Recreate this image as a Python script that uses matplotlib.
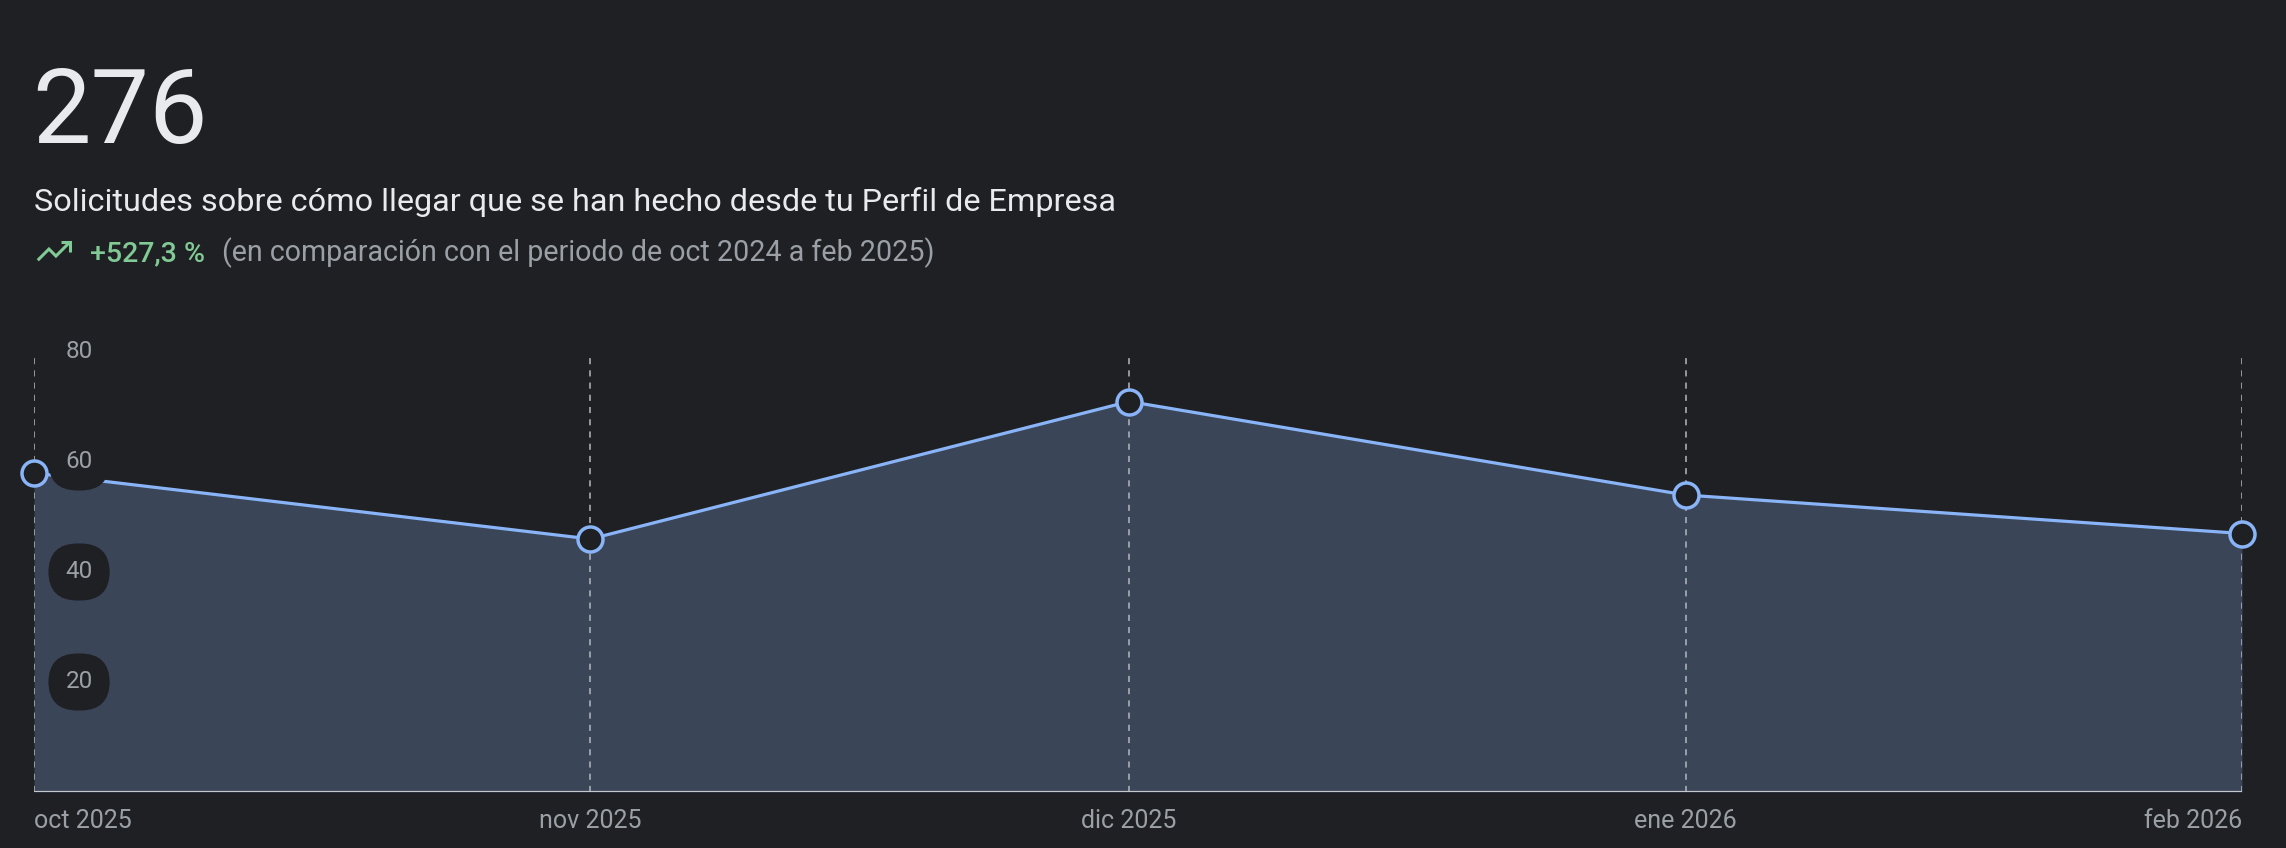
import matplotlib
matplotlib.use("Agg")
import matplotlib.pyplot as plt
from matplotlib.lines import Line2D
from datetime import datetime

# monthly values
months = [datetime(2025, 10, 1), datetime(2025, 11, 1), datetime(2025, 12, 1),
          datetime(2026, 1, 1), datetime(2026, 2, 1)]
month_labels = ["oct 2025", "nov 2025", "dic 2025", "ene 2026", "feb 2026"]
values = [58, 46, 71, 54, 47]
y_ticks = [20, 40, 60, 80]

total = "276"
subtitle = "Solicitudes sobre cómo llegar que se han hecho desde tu Perfil de Empresa"
change = "+527,3 %"
compare = "(en comparación con el periodo de oct 2024 a feb 2025)"

BG = "#1f2023"
FILL = "#3a4558"
LINE = "#8ab4f8"
GRID = "#b4b8be"
TXT = "#e8eaed"
SUB = "#9aa0a6"
GREEN = "#81c995"

W, H = 2286, 848
plt.rcParams["font.family"] = ["Roboto", "DejaVu Sans"]

fig = plt.figure(figsize=(W / 100, H / 100), dpi=100, facecolor=BG)

def fx(px):
    return px / W

def fy(py):
    return 1 - py / H

# axes placed in pixel terms of the reference
ax = fig.add_axes([fx(34), fy(792), fx(2242) - fx(34), fy(352) - fy(792)])
ax.set_facecolor(BG)
ax.set_xlim(months[0], months[-1])
ax.set_ylim(0, 80)
for s in ax.spines.values():
    s.set_visible(False)
ax.set_yticks([])

ax.fill_between(months, values, 0, color=FILL, lw=0, zorder=1)
ax.vlines(months, 0, 80, colors=GRID, linestyles=(0, (4, 4)), lw=1.1, zorder=1.5)
ax.axhline(0, color="#c4c7cc", lw=1.6, zorder=3)
ax.plot(months, values, color=LINE, lw=2.3, zorder=4,
        marker="o", ms=18, mfc=BG, mec=LINE, mew=2.5, clip_on=False)

# y labels inside the plot on dark pills
for v in y_ticks:
    ax.text(0.0204, v, str(v), transform=ax.get_yaxis_transform(),
            ha="center", va="center", fontsize=17.5, color=SUB, zorder=5,
            bbox=dict(boxstyle="round,pad=0.7,rounding_size=1.2", fc=BG, ec="none"))

ax.set_xticks(months)
ax.set_xticklabels(month_labels)
ax.tick_params(axis="x", length=0, pad=12, labelsize=18, labelcolor=SUB)
xl = ax.get_xticklabels()
xl[0].set_horizontalalignment("left")
xl[-1].set_horizontalalignment("right")

# header
fig.text(fx(32), fy(143), total, fontsize=75, color=TXT,
         va="baseline", ha="left")
fig.text(fx(34), fy(211), subtitle, fontsize=23.3, color=TXT,
         va="baseline", ha="left")
fig.text(fx(90), fy(261), change, fontsize=20.5, color=GREEN, fontweight="medium",
         va="baseline", ha="left")
fig.text(fx(222), fy(261), compare, fontsize=20.6, color=SUB,
         va="baseline", ha="left")

# trending-up icon
def icon_pt(u, v):
    return fx(36 + (u - 2) * 1.75), fy(241 + (v - 6) * 1.75)

trend = [icon_pt(*p) for p in [(3, 17), (9.4, 10.6), (13.4, 14.6), (20.5, 7.5)]]
head = [icon_pt(*p) for p in [(16, 6.5), (21.5, 6.5), (21.5, 12)]]
for pts in (trend, head):
    fig.add_artist(Line2D([p[0] for p in pts], [p[1] for p in pts],
                          transform=fig.transFigure, color=GREEN, lw=2.2,
                          solid_joinstyle="miter", solid_capstyle="butt"))

fig.savefig("out.png", dpi=100, facecolor=BG)
